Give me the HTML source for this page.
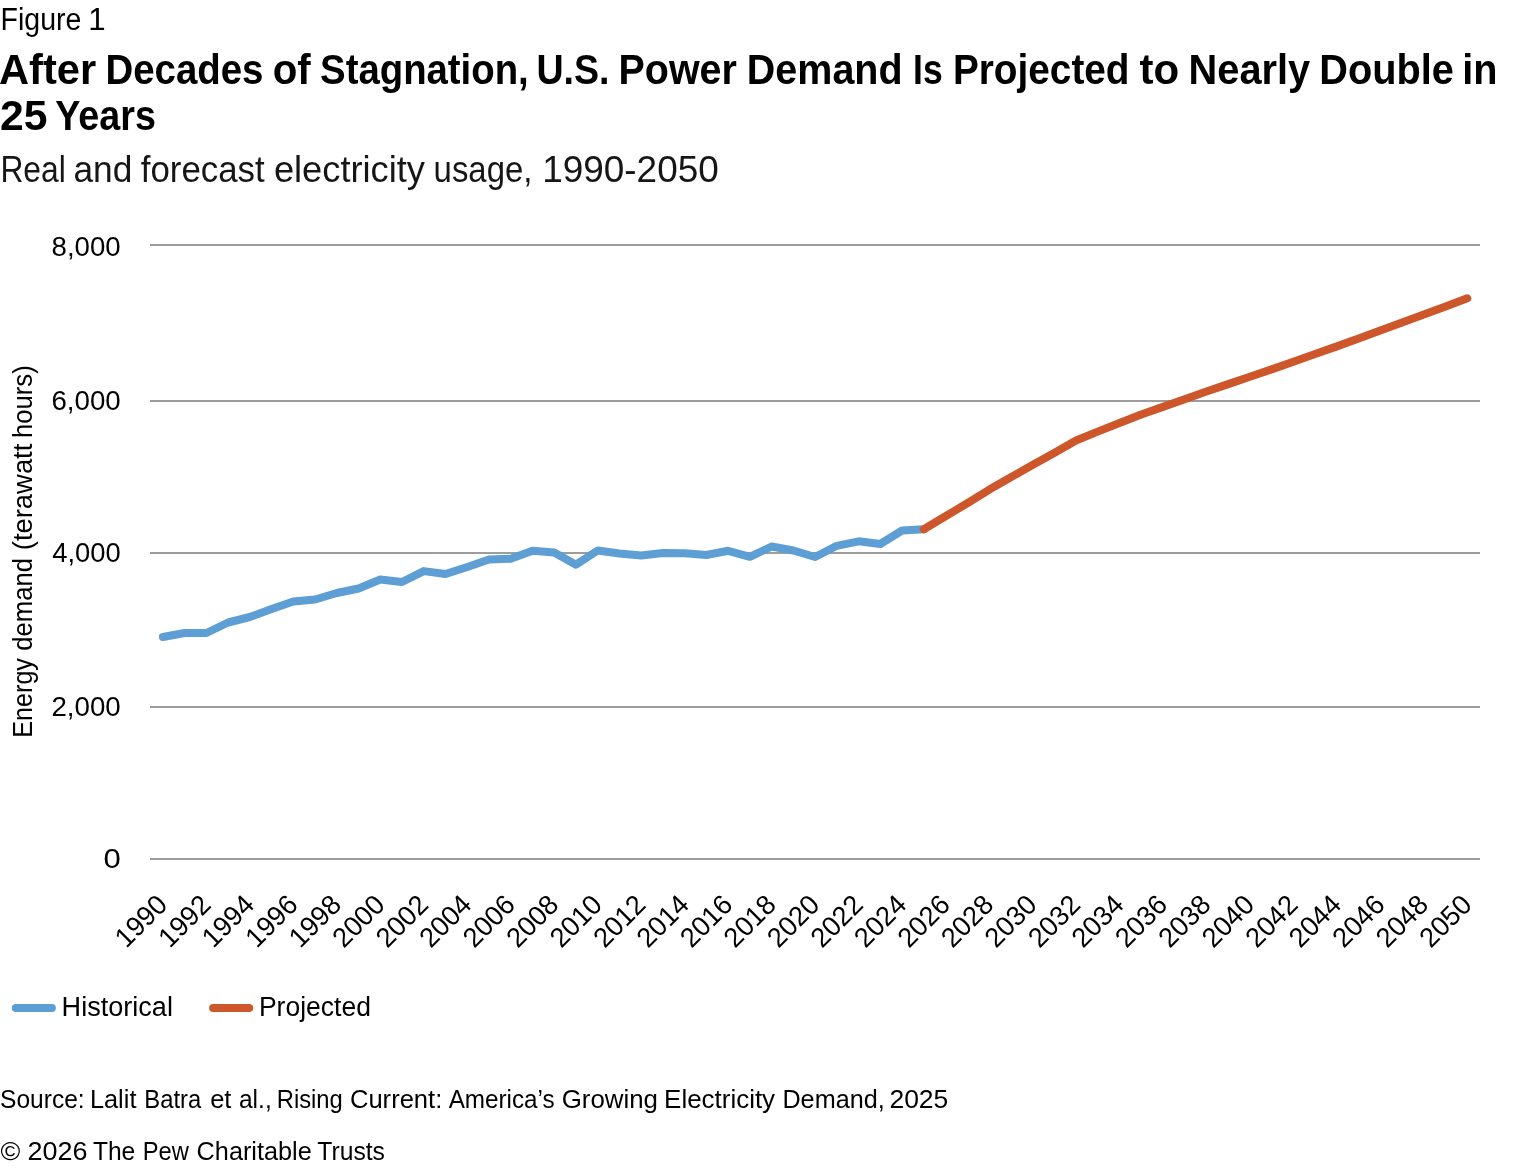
<!DOCTYPE html>
<html lang="en"><head><meta charset="utf-8"><title>Figure 1</title>
<style>html,body{margin:0;padding:0;background:#fff;overflow:hidden}svg{display:block} text{font-family:"Liberation Sans", sans-serif;}</style></head><body>
<svg width="1520" height="1168" viewBox="0 0 1520 1168" role="img" aria-label="Line chart of U.S. electricity demand, 1990-2050">
<rect width="1520" height="1168" fill="#fff"/>
<g fill="#9d9d9d">
<rect x="150" y="244" width="1330" height="2"/>
<rect x="150" y="400" width="1330" height="2"/>
<rect x="150" y="552" width="1330" height="2"/>
<rect x="150" y="706" width="1330" height="2"/>
<rect x="150" y="858" width="1330" height="2"/>
</g>
<polyline fill="none" stroke="#5d9ed4" stroke-width="8" stroke-linecap="round" stroke-linejoin="round" points="162.9,637.0 184.6,633.0 206.4,633.0 228.1,622.5 249.9,617.0 271.6,609.0 293.3,601.5 315.1,599.5 336.8,593.0 358.6,588.5 380.3,579.5 402.0,582.0 423.8,571.1 445.5,574.0 467.3,567.0 489.0,559.5 510.7,558.8 532.5,550.8 554.2,552.5 576.0,564.7 597.7,550.5 619.4,553.5 641.2,555.5 662.9,553.0 684.7,553.3 706.4,555.0 728.1,550.8 749.9,556.8 771.6,546.5 793.4,550.5 815.1,557.0 836.8,545.8 858.6,541.3 880.3,544.0 902.1,530.5 923.8,529.2"/>
<polyline fill="none" stroke="#cd572b" stroke-width="8" stroke-linecap="round" stroke-linejoin="round" points="923.8,529.2 945.5,516.3 967.3,503.2 989.0,489.8 1010.8,477.3 1032.5,465.1 1054.2,452.9 1076.0,440.5 1097.7,431.6 1119.5,423.1 1141.2,414.5 1162.9,406.9 1184.7,399.2 1206.4,391.5 1228.2,384.1 1249.9,376.8 1271.6,369.4 1293.4,361.7 1315.1,354.0 1336.9,346.4 1358.6,338.4 1380.3,330.4 1402.1,322.4 1423.8,314.4 1445.6,306.4 1467.3,298.3"/>
<line x1="15.8" y1="1008" x2="51.9" y2="1008" stroke="#5d9ed4" stroke-width="8" stroke-linecap="round"/>
<line x1="213.1" y1="1008" x2="249.2" y2="1008" stroke="#cd572b" stroke-width="8" stroke-linecap="round"/>
<g style="filter:grayscale(1)">
<g font-size="31" fill="#000">
<text x="0.50" y="30.0" textLength="80.86" lengthAdjust="spacingAndGlyphs">Figure</text>
<text x="88.38" y="30.0" textLength="17.37" lengthAdjust="spacingAndGlyphs">1</text>
</g>
<g font-size="43" font-weight="bold" fill="#000">
<text x="-1.07" y="83.75" textLength="97.18" lengthAdjust="spacingAndGlyphs">After</text>
<text x="105.41" y="83.75" textLength="158.10" lengthAdjust="spacingAndGlyphs">Decades</text>
<text x="272.66" y="83.75" textLength="37.98" lengthAdjust="spacingAndGlyphs">of</text>
<text x="320.09" y="83.75" textLength="208.66" lengthAdjust="spacingAndGlyphs">Stagnation,</text>
<text x="536.48" y="83.75" textLength="73.08" lengthAdjust="spacingAndGlyphs">U.S.</text>
<text x="618.59" y="83.75" textLength="118.25" lengthAdjust="spacingAndGlyphs">Power</text>
<text x="746.84" y="83.75" textLength="155.78" lengthAdjust="spacingAndGlyphs">Demand</text>
<text x="913.11" y="83.75" textLength="29.60" lengthAdjust="spacingAndGlyphs">Is</text>
<text x="952.89" y="83.75" textLength="176.69" lengthAdjust="spacingAndGlyphs">Projected</text>
<text x="1139.51" y="83.75" textLength="39.63" lengthAdjust="spacingAndGlyphs">to</text>
<text x="1188.57" y="83.75" textLength="121.60" lengthAdjust="spacingAndGlyphs">Nearly</text>
<text x="1319.32" y="83.75" textLength="134.57" lengthAdjust="spacingAndGlyphs">Double</text>
<text x="1462.23" y="83.75" textLength="35.27" lengthAdjust="spacingAndGlyphs">in</text>
</g>
<g font-size="43" font-weight="bold" fill="#000">
<text x="0.01" y="129.75" textLength="47.46" lengthAdjust="spacingAndGlyphs">25</text>
<text x="55.30" y="129.75" textLength="100.58" lengthAdjust="spacingAndGlyphs">Years</text>
</g>
<g font-size="36.5" fill="#161616">
<text x="0.39" y="181.8" textLength="65.43" lengthAdjust="spacingAndGlyphs">Real</text>
<text x="73.45" y="181.8" textLength="58.87" lengthAdjust="spacingAndGlyphs">and</text>
<text x="140.77" y="181.8" textLength="123.95" lengthAdjust="spacingAndGlyphs">forecast</text>
<text x="273.91" y="181.8" textLength="151.10" lengthAdjust="spacingAndGlyphs">electricity</text>
<text x="433.59" y="181.8" textLength="98.79" lengthAdjust="spacingAndGlyphs">usage,</text>
<text x="542.17" y="181.8" textLength="176.60" lengthAdjust="spacingAndGlyphs">1990-2050</text>
</g>
<g font-size="27" fill="#000">
<text x="61.59" y="1015.9" textLength="111.33" lengthAdjust="spacingAndGlyphs">Historical</text>
</g>
<g font-size="27" fill="#000">
<text x="258.89" y="1015.9" textLength="112.04" lengthAdjust="spacingAndGlyphs">Projected</text>
</g>
<g font-size="25.5" fill="#000">
<text x="0.09" y="1107.9" textLength="84.60" lengthAdjust="spacingAndGlyphs">Source:</text>
<text x="89.91" y="1107.9" textLength="46.52" lengthAdjust="spacingAndGlyphs">Lalit</text>
<text x="144.29" y="1107.9" textLength="56.91" lengthAdjust="spacingAndGlyphs">Batra</text>
<text x="210.15" y="1107.9" textLength="21.27" lengthAdjust="spacingAndGlyphs">et</text>
<text x="238.94" y="1107.9" textLength="32.79" lengthAdjust="spacingAndGlyphs">al.,</text>
<text x="276.79" y="1107.9" textLength="66.00" lengthAdjust="spacingAndGlyphs">Rising</text>
<text x="349.95" y="1107.9" textLength="92.37" lengthAdjust="spacingAndGlyphs">Current:</text>
<text x="448.65" y="1107.9" textLength="106.02" lengthAdjust="spacingAndGlyphs">America’s</text>
<text x="561.68" y="1107.9" textLength="96.24" lengthAdjust="spacingAndGlyphs">Growing</text>
<text x="664.11" y="1107.9" textLength="110.98" lengthAdjust="spacingAndGlyphs">Electricity</text>
<text x="782.42" y="1107.9" textLength="102.32" lengthAdjust="spacingAndGlyphs">Demand,</text>
<text x="889.40" y="1107.9" textLength="58.97" lengthAdjust="spacingAndGlyphs">2025</text>
</g>
<g font-size="25.5" fill="#000">
<text x="0.63" y="1159.7" textLength="19.78" lengthAdjust="spacingAndGlyphs">©</text>
<text x="27.53" y="1159.7" textLength="59.96" lengthAdjust="spacingAndGlyphs">2026</text>
<text x="92.92" y="1159.7" textLength="42.38" lengthAdjust="spacingAndGlyphs">The</text>
<text x="142.75" y="1159.7" textLength="46.17" lengthAdjust="spacingAndGlyphs">Pew</text>
<text x="196.61" y="1159.7" textLength="115.11" lengthAdjust="spacingAndGlyphs">Charitable</text>
<text x="317.32" y="1159.7" textLength="67.64" lengthAdjust="spacingAndGlyphs">Trusts</text>
</g>
<g font-size="27.7" fill="#000">
<text x="51.60" y="256.25" textLength="69.11" lengthAdjust="spacingAndGlyphs">8,000</text>
<text x="51.40" y="410.3" textLength="69.31" lengthAdjust="spacingAndGlyphs">6,000</text>
<text x="52.21" y="562.3" textLength="68.49" lengthAdjust="spacingAndGlyphs">4,000</text>
<text x="51.40" y="716.3" textLength="69.31" lengthAdjust="spacingAndGlyphs">2,000</text>
<text x="103.57" y="868.3" textLength="17.27" lengthAdjust="spacingAndGlyphs">0</text>
</g>
<g font-size="27" fill="#000">
<text transform="translate(32.0,735.6) rotate(-90)" x="-2.05" y="0" textLength="79.58" lengthAdjust="spacingAndGlyphs">Energy</text>
<text transform="translate(32.0,649.6) rotate(-90)" x="-1.04" y="0" textLength="92.53" lengthAdjust="spacingAndGlyphs">demand</text>
<text transform="translate(32.0,548.5) rotate(-90)" x="-1.72" y="0" textLength="106.56" lengthAdjust="spacingAndGlyphs">(terawatt</text>
<text transform="translate(32.0,436.2) rotate(-90)" x="-1.81" y="0" textLength="72.75" lengthAdjust="spacingAndGlyphs">hours)</text>
</g>
<g font-size="27.7" fill="#000" text-anchor="end">
<text transform="translate(161.90,899.4) rotate(-45)" x="0" y="9.9" textLength="60.2" lengthAdjust="spacingAndGlyphs">1990</text>
<text transform="translate(205.38,899.4) rotate(-45)" x="0" y="9.9" textLength="60.2" lengthAdjust="spacingAndGlyphs">1992</text>
<text transform="translate(248.86,899.4) rotate(-45)" x="0" y="9.9" textLength="60.2" lengthAdjust="spacingAndGlyphs">1994</text>
<text transform="translate(292.34,899.4) rotate(-45)" x="0" y="9.9" textLength="60.2" lengthAdjust="spacingAndGlyphs">1996</text>
<text transform="translate(335.82,899.4) rotate(-45)" x="0" y="9.9" textLength="60.2" lengthAdjust="spacingAndGlyphs">1998</text>
<text transform="translate(379.30,899.4) rotate(-45)" x="0" y="9.9" textLength="60.2" lengthAdjust="spacingAndGlyphs">2000</text>
<text transform="translate(422.78,899.4) rotate(-45)" x="0" y="9.9" textLength="60.2" lengthAdjust="spacingAndGlyphs">2002</text>
<text transform="translate(466.26,899.4) rotate(-45)" x="0" y="9.9" textLength="60.2" lengthAdjust="spacingAndGlyphs">2004</text>
<text transform="translate(509.74,899.4) rotate(-45)" x="0" y="9.9" textLength="60.2" lengthAdjust="spacingAndGlyphs">2006</text>
<text transform="translate(553.22,899.4) rotate(-45)" x="0" y="9.9" textLength="60.2" lengthAdjust="spacingAndGlyphs">2008</text>
<text transform="translate(596.70,899.4) rotate(-45)" x="0" y="9.9" textLength="60.2" lengthAdjust="spacingAndGlyphs">2010</text>
<text transform="translate(640.18,899.4) rotate(-45)" x="0" y="9.9" textLength="60.2" lengthAdjust="spacingAndGlyphs">2012</text>
<text transform="translate(683.66,899.4) rotate(-45)" x="0" y="9.9" textLength="60.2" lengthAdjust="spacingAndGlyphs">2014</text>
<text transform="translate(727.14,899.4) rotate(-45)" x="0" y="9.9" textLength="60.2" lengthAdjust="spacingAndGlyphs">2016</text>
<text transform="translate(770.62,899.4) rotate(-45)" x="0" y="9.9" textLength="60.2" lengthAdjust="spacingAndGlyphs">2018</text>
<text transform="translate(814.10,899.4) rotate(-45)" x="0" y="9.9" textLength="60.2" lengthAdjust="spacingAndGlyphs">2020</text>
<text transform="translate(857.58,899.4) rotate(-45)" x="0" y="9.9" textLength="60.2" lengthAdjust="spacingAndGlyphs">2022</text>
<text transform="translate(901.06,899.4) rotate(-45)" x="0" y="9.9" textLength="60.2" lengthAdjust="spacingAndGlyphs">2024</text>
<text transform="translate(944.54,899.4) rotate(-45)" x="0" y="9.9" textLength="60.2" lengthAdjust="spacingAndGlyphs">2026</text>
<text transform="translate(988.02,899.4) rotate(-45)" x="0" y="9.9" textLength="60.2" lengthAdjust="spacingAndGlyphs">2028</text>
<text transform="translate(1031.50,899.4) rotate(-45)" x="0" y="9.9" textLength="60.2" lengthAdjust="spacingAndGlyphs">2030</text>
<text transform="translate(1074.98,899.4) rotate(-45)" x="0" y="9.9" textLength="60.2" lengthAdjust="spacingAndGlyphs">2032</text>
<text transform="translate(1118.46,899.4) rotate(-45)" x="0" y="9.9" textLength="60.2" lengthAdjust="spacingAndGlyphs">2034</text>
<text transform="translate(1161.94,899.4) rotate(-45)" x="0" y="9.9" textLength="60.2" lengthAdjust="spacingAndGlyphs">2036</text>
<text transform="translate(1205.42,899.4) rotate(-45)" x="0" y="9.9" textLength="60.2" lengthAdjust="spacingAndGlyphs">2038</text>
<text transform="translate(1248.90,899.4) rotate(-45)" x="0" y="9.9" textLength="60.2" lengthAdjust="spacingAndGlyphs">2040</text>
<text transform="translate(1292.38,899.4) rotate(-45)" x="0" y="9.9" textLength="60.2" lengthAdjust="spacingAndGlyphs">2042</text>
<text transform="translate(1335.86,899.4) rotate(-45)" x="0" y="9.9" textLength="60.2" lengthAdjust="spacingAndGlyphs">2044</text>
<text transform="translate(1379.34,899.4) rotate(-45)" x="0" y="9.9" textLength="60.2" lengthAdjust="spacingAndGlyphs">2046</text>
<text transform="translate(1422.82,899.4) rotate(-45)" x="0" y="9.9" textLength="60.2" lengthAdjust="spacingAndGlyphs">2048</text>
<text transform="translate(1466.30,899.4) rotate(-45)" x="0" y="9.9" textLength="60.2" lengthAdjust="spacingAndGlyphs">2050</text>
</g>
</g>
</svg></body></html>
